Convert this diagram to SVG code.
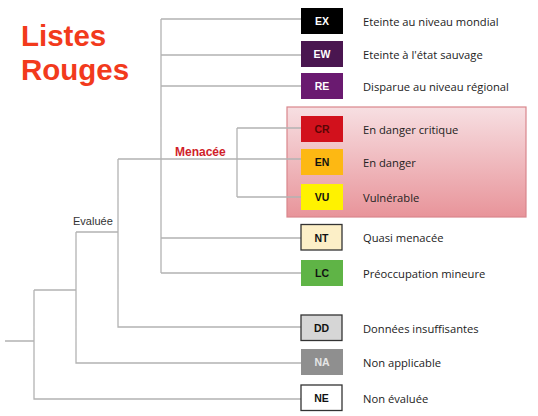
<svg xmlns="http://www.w3.org/2000/svg" width="538" height="416" viewBox="0 0 538 416">
<defs>
<linearGradient id="pink" x1="0" y1="0" x2="0" y2="1">
<stop offset="0" stop-color="#f7dfe2"/>
<stop offset="1" stop-color="#e8949a"/>
</linearGradient>
<style>
.ln{fill:none;stroke:#b3b3b3;stroke-width:1.3}
.bx{stroke:none}
.bd{stroke:#333;stroke-width:1.3}
.code{font-family:"Liberation Sans",Arial,sans-serif;font-weight:bold;font-size:10.5px;text-anchor:middle}
.lab{font-family:"Open Sans","Liberation Sans",sans-serif;font-size:11.2px;fill:#222}
</style>
</defs>
<rect width="538" height="416" fill="#fff"/>
<text x="21" y="46" font-family="Liberation Sans,Arial,sans-serif" font-weight="bold" font-size="29.5px" fill="#f23a1c">Listes</text>
<text x="21" y="80" font-family="Liberation Sans,Arial,sans-serif" font-weight="bold" font-size="29.5px" fill="#f23a1c">Rouges</text>
<rect id="menacee-zone" x="287" y="107" width="239" height="110" fill="url(#pink)" stroke="#d9868c" stroke-width="1.2"/>
<g id="connectors">
<path class="ln" d="M5 341H34M34 290V399H301M34 290H76M76 232V363H301M76 232H118M118 159V327H301M118 159H161M161 19V273M161 19H301M161 55H301M161 86H301M161 159H301M161 238H301M161 273H301M237 128V197M237 128H301M237 197H301"/>
</g>
<text x="175" y="155.5" font-family="Liberation Sans,Arial,sans-serif" font-weight="bold" font-size="12px" fill="#d01e2a">Menacée</text>
<text x="73" y="225" font-family="Liberation Sans,Arial,sans-serif" font-size="11px" fill="#333">Evaluée</text>
<g id="EX"><rect class="bx" x="301" y="8" width="42" height="26" fill="#000"/><text class="code" x="322" y="25" fill="#fff">EX</text><text class="lab" x="363" y="25.5">Eteinte au niveau mondial</text></g>
<g id="EW"><rect class="bx" x="301" y="41" width="42" height="26" fill="#4a1650"/><text class="code" x="322" y="58" fill="#fff">EW</text><text class="lab" x="363" y="58.5">Eteinte à l'état sauvage</text></g>
<g id="RE"><rect class="bx" x="301" y="73" width="42" height="26" fill="#6a1a70"/><text class="code" x="322" y="90" fill="#fff">RE</text><text class="lab" x="363" y="90.5">Disparue au niveau régional</text></g>
<g id="CR"><rect class="bx" x="301" y="116" width="42" height="26" fill="#d2111c"/><text class="code" x="322" y="133" fill="#5a0505">CR</text><text class="lab" x="363" y="133.5">En danger critique</text></g>
<g id="EN"><rect class="bx" x="301" y="149" width="42" height="26" fill="#fdb813"/><text class="code" x="322" y="166" fill="#111">EN</text><text class="lab" x="363" y="166.5">En danger</text></g>
<g id="VU"><rect class="bx" x="301" y="184" width="42" height="26" fill="#fff200"/><text class="code" x="322" y="201" fill="#111">VU</text><text class="lab" x="363" y="201.5">Vulnérable</text></g>
<g id="NT"><rect class="bd" x="301" y="224.5" width="41" height="25.5" fill="#fcefc7"/><text class="code" x="321.5" y="241.5" fill="#111">NT</text><text class="lab" x="363" y="242">Quasi menacée</text></g>
<g id="LC"><rect class="bx" x="301" y="260" width="42" height="26" fill="#5fb446"/><text class="code" x="322" y="277" fill="#111">LC</text><text class="lab" x="363" y="277.5">Préoccupation mineure</text></g>
<g id="DD"><rect class="bd" x="301" y="315" width="41" height="25.5" fill="#d6d6d6"/><text class="code" x="321.5" y="332" fill="#111">DD</text><text class="lab" x="363" y="332.5">Données insuffisantes</text></g>
<g id="NA"><rect class="bx" x="301" y="349" width="42" height="26" fill="#8f8f8f"/><text class="code" x="322" y="366" fill="#e6e6e6">NA</text><text class="lab" x="363" y="366.5">Non applicable</text></g>
<g id="NE"><rect class="bd" x="301" y="385" width="41" height="25.5" fill="#fff"/><text class="code" x="321.5" y="402" fill="#111">NE</text><text class="lab" x="363" y="402.5">Non évaluée</text></g>
</svg>
